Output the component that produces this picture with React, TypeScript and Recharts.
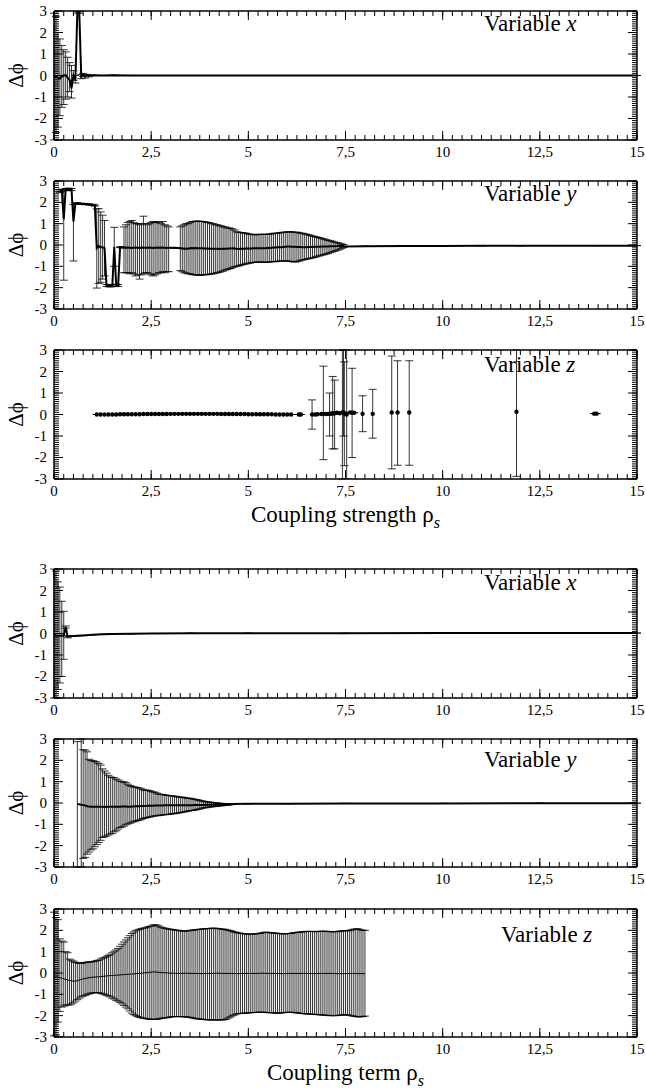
import React from 'react';
import { LineChart, Line, XAxis, YAxis, ErrorBar, Label } from 'recharts';

const FONT = '"Liberation Serif", "Times New Roman", serif';

// ---------- axes ----------
const xMajorTicks = [0, 2.5, 5, 7.5, 10, 12.5, 15];
const xTickLabels = ['0', '2,5', '5', '7,5', '10', '12,5', '15'];
const xMinorTicks = [0, 0.25, 0.5, 0.75, 1, 1.25, 1.5, 1.75, 2, 2.25, 2.5, 2.75, 3, 3.25, 3.5, 3.75, 4, 4.25, 4.5, 4.75, 5, 5.25, 5.5, 5.75, 6, 6.25, 6.5, 6.75, 7, 7.25, 7.5, 7.75, 8, 8.25, 8.5, 8.75, 9, 9.25, 9.5, 9.75, 10, 10.25, 10.5, 10.75, 11, 11.25, 11.5, 11.75, 12, 12.25, 12.5, 12.75, 13, 13.25, 13.5, 13.75, 14, 14.25, 14.5, 14.75, 15];
const yMajorTicks = [-3, -2, -1, 0, 1, 2, 3];
const yMinorTicks = [-3, -2.9, -2.8, -2.7, -2.6, -2.5, -2.4, -2.3, -2.2, -2.1, -2, -1.9, -1.8, -1.7, -1.6, -1.5, -1.4, -1.3, -1.2, -1.1, -1, -0.9, -0.8, -0.7, -0.6, -0.5, -0.4, -0.3, -0.2, -0.1, 0, 0.1, 0.2, 0.3, 0.4, 0.5, 0.6, 0.7, 0.8, 0.9, 1, 1.1, 1.2, 1.3, 1.4, 1.5, 1.6, 1.7, 1.8, 1.9, 2, 2.1, 2.2, 2.3, 2.4, 2.5, 2.6, 2.7, 2.8, 2.9, 3];
const yDomain: [number, number] = [-3, 3];
const xDomain: [number, number] = [0, 15];

// ---------- Panel 1 : coupling strength, variable x ----------
const p1X = [0, 0.05, 0.1, 0.15, 0.2, 0.25, 0.3, 0.35, 0.4, 0.45, 0.5, 0.55, 0.6, 0.65, 0.7, 0.75, 0.8, 0.85, 0.9, 1, 1.25, 1.5, 2, 2.5, 3.5, 5, 7.5, 10, 12.5, 15];
const p1Y = [-0.1, -0.05, -0.1, -0.15, -0.05, 0, 0.02, -0.1, -0.2, -0.6, 0, -0.2, 2.95, 2.95, -0.05, 0.05, -0.05, 0.03, -0.02, 0.01, 0, 0.01, 0, 0, 0, 0, 0, 0, 0, 0];
const p1Hi = [2.9, 2.75, 2.0, 1.7, 1.4, 1.2, 1.1, 0.85, 0.6, 0.47, 0.23, 0.0, 2.98, 2.98, 0.05, 0.1, 0.03, 0.05, 0.02];
const p1Lo = [-3.1, -2.65, -2.4, -1.87, -1.48, -1.35, -1.1, -1.0, -0.75, -1.05, -0.23, -0.35, 2.9, 2.9, -0.15, -0.05, -0.12, 0.0, -0.06];

// ---------- Panel 2 : coupling strength, variable y ----------
const p2XA = [0.15, 0.2, 0.25, 0.3, 0.35, 0.4, 0.45, 0.5, 0.55, 0.6, 0.7, 0.8, 0.9, 1, 1.05];
const p2YA = [2.5, 2.55, 1.2, 2.6, 2.6, 2.62, 2.6, 1.1, 1.95, 1.95, 1.93, 1.92, 1.9, 1.88, 1.85];
const p2HiA = [2.58, 2.62, 2.6, 2.65, 2.66, 2.66, 2.65, 1.9, 1.98, 1.98, 1.96, 1.95, 1.93, 1.91, 1.88];
const p2LoA = [2.45, 2.5, -1.65, 2.55, 2.55, 2.56, 2.55, -0.75, 1.92, 1.92, 1.9, 1.89, 1.87, 1.85, 1.82];

const p2XB = [1.1, 1.15, 1.2, 1.25, 1.3, 1.35, 1.4, 1.45, 1.5, 1.55, 1.6, 1.65, 1.7, 1.75];
const p2YB = [-0.15, -0.05, -0.1, -0.1, -0.15, -1.9, -1.9, -1.92, -1.9, -0.1, -1.88, -1.9, -0.1, -0.12];
const p2HiB = [1.7, 1.7, 1.55, 1.4, 1.15, -1.85, -1.85, -1.87, -1.85, 0.83, -1.84, -1.85, -0.08, -0.1];
const p2LoB = [-2.02, -1.8, -1.75, -1.6, -1.45, -1.95, -1.95, -1.97, -1.95, -1.0, -1.92, -1.95, -0.12, -0.14];

const p2XC = [1.8, 1.85, 1.9, 1.95, 2, 2.05, 2.1, 2.15, 2.2, 2.25, 2.3, 2.35, 2.4, 2.45, 2.5, 2.55, 2.6, 2.65, 2.7, 2.75, 2.8, 2.85, 2.9, 2.95];
const p2YC = [-0.12, -0.13, -0.12, -0.13, -0.14, -0.13, -0.12, -0.13, -0.14, -0.13, -0.12, -0.13, -0.13, -0.12, -0.13, -0.14, -0.13, -0.12, -0.13, -0.13, -0.12, -0.13, -0.14, -0.13];
const p2HiC = [0.85, 0.95, 1.05, 1.1, 1.15, 1.05, 1.0, 1.0, 0.95, 1.0, 1.35, 1.0, 0.95, 1.0, 1.05, 1.1, 1.05, 1.1, 1.05, 1.0, 1.1, 0.95, 0.9, 0.85];
const p2LoC = [-1.3, -1.3, -1.3, -1.35, -1.3, -1.35, -1.45, -1.4, -1.6, -1.4, -1.35, -1.3, -1.3, -1.35, -1.4, -1.45, -1.4, -1.35, -1.3, -1.3, -1.25, -1.3, -1.25, -1.25];

const p2XG = [3, 3.1, 3.2];
const p2YG = [-0.13, -0.13, -0.14];

const p2XD = [3.25, 3.3, 3.35, 3.4, 3.45, 3.5, 3.55, 3.6, 3.65, 3.7, 3.75, 3.8, 3.85, 3.9, 3.95, 4, 4.05, 4.1, 4.15, 4.2, 4.25, 4.3, 4.35, 4.4, 4.45, 4.5, 4.55, 4.6, 4.65, 4.7, 4.75, 4.8, 4.85, 4.9, 4.95, 5, 5.05, 5.1, 5.15, 5.2, 5.25, 5.3, 5.35, 5.4, 5.45, 5.5, 5.55, 5.6, 5.65, 5.7, 5.75, 5.8, 5.85, 5.9, 5.95, 6, 6.05, 6.1, 6.15, 6.2, 6.25, 6.3, 6.35, 6.4, 6.45, 6.5, 6.55, 6.6, 6.65, 6.7, 6.75, 6.8, 6.85, 6.9, 6.95, 7, 7.05, 7.1, 7.15, 7.2, 7.25, 7.3, 7.35, 7.4, 7.45];
const p2YD = [-0.15, -0.16, -0.17, -0.16, -0.17, -0.15, -0.14, -0.15, -0.14, -0.15, -0.15, -0.15, -0.16, -0.16, -0.16, -0.17, -0.17, -0.17, -0.18, -0.18, -0.19, -0.18, -0.18, -0.17, -0.17, -0.16, -0.16, -0.15, -0.16, -0.19, -0.19, -0.18, -0.17, -0.17, -0.16, -0.16,
  -0.16, -0.16, -0.15, -0.15, -0.15, -0.15, -0.15, -0.15, -0.15, -0.14, -0.14, -0.13, -0.12, -0.12, -0.11, -0.11, -0.1, -0.09, -0.08, -0.07, -0.07, -0.08, -0.08, -0.08, -0.09, -0.09, -0.09, -0.1, -0.1, -0.1,
  -0.09, -0.09, -0.09, -0.08, -0.08, -0.08, -0.08, -0.07, -0.07, -0.07, -0.07, -0.06, -0.06, -0.06, -0.06, -0.05, -0.05, -0.05, -0.05];
const p2HiD = [0.85, 0.9, 0.95, 1.0, 1.0, 1.05, 1.1, 1.1, 1.12, 1.12, 1.12, 1.1, 1.1, 1.08, 1.05, 1.05, 1.0, 1.0, 0.95, 0.95, 0.9, 0.9, 0.85, 0.85, 0.8, 0.8, 0.78, 0.75, 0.7, 0.62, 0.6, 0.58, 0.58, 0.56, 0.55, 0.52, 0.5, 0.5, 0.48, 0.48, 0.5, 0.5, 0.5, 0.5, 0.5, 0.5, 0.52, 0.52, 0.55, 0.55, 0.55, 0.58, 0.58, 0.6, 0.6, 0.62, 0.62, 0.62, 0.6, 0.6, 0.6, 0.58, 0.55, 0.55, 0.52, 0.5, 0.48, 0.45, 0.42, 0.4, 0.38, 0.35, 0.33, 0.3, 0.28, 0.25, 0.22, 0.2, 0.18, 0.15, 0.12, 0.1, 0.08, 0.05, 0.02];
const p2LoD = [-1.2, -1.25, -1.3, -1.32, -1.35, -1.35, -1.38, -1.4, -1.4, -1.42, -1.42, -1.4, -1.4, -1.4, -1.38, -1.38, -1.35, -1.35, -1.32, -1.3, -1.28, -1.25, -1.22, -1.18, -1.15, -1.12, -1.1, -1.05, -1.02, -1.0, -0.98, -0.95, -0.92, -0.9, -0.88, -0.85, -0.85, -0.82, -0.82, -0.8, -0.8, -0.8, -0.8, -0.82, -0.82, -0.8, -0.8, -0.78, -0.78, -0.78, -0.76, -0.76, -0.75, -0.75, -0.75, -0.75, -0.76, -0.78, -0.78, -0.8, -0.78, -0.76, -0.72, -0.7, -0.68, -0.66, -0.64, -0.62, -0.6, -0.58, -0.55, -0.52, -0.5, -0.47, -0.45, -0.42, -0.4, -0.36, -0.33, -0.3, -0.27, -0.24, -0.2, -0.16, -0.12];

const p2XT = [7.5, 8, 9, 10, 11, 12, 13, 14, 15];
const p2YT = [-0.07, -0.06, -0.05, -0.05, -0.04, -0.04, -0.03, -0.03, -0.03];

// ---------- Panel 3 : coupling strength, variable z (points) ----------
const p3XA = [1.1, 1.2, 1.3, 1.4, 1.5, 1.6, 1.7, 1.8, 1.9, 2, 2.1, 2.2, 2.3, 2.4, 2.5, 2.6, 2.7, 2.8, 2.9, 3, 3.1, 3.2, 3.3, 3.4, 3.5, 3.6, 3.7, 3.8, 3.9, 4, 4.1, 4.2, 4.3, 4.4, 4.5, 4.6, 4.7, 4.8, 4.9, 5, 5.1, 5.2, 5.3, 5.4, 5.5, 5.6, 5.7, 5.8, 5.9, 6, 6.1];
const p3YA = [0, 0, 0, 0, 0, 0, 0.01, 0.01, 0.01, 0.01, 0.01, 0.01, 0.02, 0.02, 0.02, 0.02, 0.02, 0.02, 0.02, 0.03, 0.03, 0.03, 0.03, 0.03, 0.03, 0.03, 0.03, 0.03, 0.03, 0.03, 0.03, 0.03, 0.02, 0.02, 0.02, 0.02, 0.02, 0.02, 0.02, 0.01, 0.01, 0.01, 0.01, 0.01, 0.01, 0.01, 0, 0, 0, 0, 0];
const p3XB = [6.3, 6.35, 6.64, 6.72, 6.78, 6.88, 6.93, 7.0, 7.05, 7.09, 7.14, 7.17, 7.22, 7.28, 7.35, 7.42, 7.45, 7.47, 7.53, 7.62, 7.67, 7.72, 7.94, 8.2, 8.69, 8.84, 9.14, 11.9, 13.9, 13.96];
const p3YB = [0, 0, 0, 0, 0.01, 0.02, 0.03, 0.02, 0.03, 0.03, 0.05, 0.05, 0.06, 0.08, 0.06, 0.1, 0.1, 0.05, 0, 0.1, 0.08, 0.08, 0.03, 0.03, 0.09, 0.09, 0.09, 0.13, 0.04, 0.04];
const p3HiB = [null, null, 0.68, null, null, null, 2.25, null, null, 1.0, null, 1.77, 1.6, null, null, 3.5, 3.4, 2.45, 3.2, null, 2.15, null, 0.87, 1.17, 2.72, 2.5, 2.5, 3.2, null, null];
const p3LoB = [null, null, -0.68, null, null, null, -2.1, null, null, -1.0, null, -1.6, -1.6, null, null, -3.3, -1.0, -2.38, -2.98, null, -2.0, null, -0.8, -1.1, -2.53, -2.36, -2.36, -2.88, null, null];

// ---------- Panel 4 : coupling term, variable x ----------
const p4X = [0, 0.05, 0.1, 0.15, 0.2, 0.25, 0.3, 0.35, 0.4, 0.5, 0.6, 0.75, 1, 1.25, 1.5, 2, 2.5, 3.5, 5, 7.5, 10, 12.5, 15];
const p4Y = [-0.05, -0.1, -0.1, -0.1, -0.1, -0.1, 0.3, -0.15, -0.14, -0.12, -0.11, -0.09, -0.06, -0.04, -0.02, -0.01, 0, 0.01, 0.01, 0.01, 0.02, 0.02, 0.02];
const p4Hi = [3.3, 2.9, 2.4, 2.16, 1.5, 1.03, 0.35, -0.1];
const p4Lo = [-3.3, -3.0, -2.6, -2.3, -2.0, -1.2, 0.25, -0.2];

// ---------- Panel 5 : coupling term, variable y ----------
const p5XA = [0.6, 0.7];
const p5YA = [-0.05, -0.08];
const p5HiA = [2.88, 3.3];
const p5LoA = [-3.0, -3.3];
const p5XB = [0.75, 0.8, 0.85, 0.9, 0.95, 1, 1.05, 1.1, 1.15, 1.2, 1.25, 1.3, 1.35, 1.4, 1.45, 1.5, 1.55, 1.6, 1.65, 1.7, 1.75, 1.8, 1.85, 1.9, 1.95, 2, 2.05, 2.1, 2.15, 2.2, 2.25, 2.3, 2.35, 2.4, 2.45, 2.5, 2.55, 2.6, 2.65, 2.7, 2.75, 2.8, 2.85, 2.9, 2.95, 3, 3.05, 3.1, 3.15, 3.2, 3.25, 3.3, 3.35, 3.4, 3.45, 3.5, 3.55, 3.6, 3.65, 3.7, 3.75, 3.8, 3.85, 3.9, 3.95, 4, 4.05, 4.1, 4.15, 4.2, 4.25, 4.3, 4.35, 4.4, 4.45, 4.5, 4.55, 4.6];
const p5YB = [-0.1, -0.12, -0.15, -0.17, -0.18, -0.18, -0.18, -0.17, -0.17, -0.18, -0.18, -0.19, -0.18, -0.18, -0.17, -0.17, -0.18, -0.18, -0.17, -0.17, -0.16, -0.16, -0.16, -0.17, -0.17, -0.16,
  -0.16, -0.15, -0.15, -0.15, -0.14, -0.14, -0.14, -0.13, -0.13, -0.13, -0.13, -0.12, -0.12, -0.12, -0.12, -0.12, -0.11, -0.11, -0.11, -0.11,
  -0.11, -0.11, -0.1, -0.1, -0.1, -0.1, -0.1, -0.1, -0.1, -0.1, -0.1, -0.09, -0.09, -0.09, -0.09, -0.09, -0.09, -0.08, -0.08, -0.08,
  -0.08, -0.08, -0.08, -0.07, -0.07, -0.07, -0.07, -0.06, -0.06, -0.06, -0.06, -0.05];
const p5HiB = [2.5, 2.48, 2.4, 2.05, 2.0, 1.98, 1.95, 1.92, 1.85, 1.78, 1.6, 1.5, 1.4, 1.3, 1.22, 1.2, 1.18, 1.12, 1.08, 1.02, 1.0, 0.98, 0.95, 0.88, 0.82, 0.78, 0.76, 0.74, 0.72, 0.7, 0.66, 0.62, 0.6, 0.6, 0.58, 0.55, 0.52, 0.5, 0.46, 0.42, 0.4, 0.4, 0.38, 0.36, 0.35, 0.34, 0.33, 0.32, 0.3, 0.28, 0.28, 0.27, 0.25, 0.24, 0.22, 0.22, 0.2, 0.18, 0.16, 0.15, 0.12, 0.1, 0.08, 0.06, 0.05, 0.04, 0.03, 0.02, 0.01, 0, -0.01, -0.02, -0.02, -0.03, -0.03, -0.03, -0.04, -0.04];
const p5LoB = [-2.6, -2.55, -2.4, -2.3, -2.2, -2.15, -2.05, -1.95, -1.85, -1.75, -1.62, -1.58, -1.55, -1.5, -1.45, -1.42, -1.35, -1.3, -1.22, -1.15, -1.12, -1.08, -1.02, -0.98, -0.95, -0.9, -0.88, -0.85, -0.82, -0.8, -0.76, -0.73, -0.7, -0.68, -0.66, -0.64, -0.62, -0.6, -0.6, -0.58, -0.57, -0.56, -0.55, -0.54, -0.53, -0.52, -0.5, -0.5, -0.48, -0.47, -0.45, -0.43, -0.42, -0.4, -0.38, -0.36, -0.35, -0.34, -0.32, -0.3, -0.28, -0.25, -0.23, -0.22, -0.2, -0.19, -0.18, -0.17, -0.16, -0.15, -0.14, -0.13, -0.12, -0.11, -0.1, -0.09, -0.08, -0.07];
const p5XT = [5, 6, 7.5, 10, 12.5, 15];
const p5YT = [-0.04, -0.03, -0.02, -0.02, -0.01, -0.01];

// ---------- Panel 6 : coupling term, variable z ----------
const p6X = [0, 0.05, 0.1, 0.15, 0.2, 0.25, 0.3, 0.35, 0.4, 0.45, 0.5, 0.55, 0.6, 0.65, 0.7, 0.75, 0.8, 0.85, 0.9, 0.95,
  1, 1.05, 1.1, 1.15, 1.2, 1.25, 1.3, 1.35, 1.4, 1.45, 1.5, 1.55, 1.6, 1.65, 1.7, 1.75, 1.8, 1.85, 1.9, 1.95,
  2, 2.05, 2.1, 2.15, 2.2, 2.25, 2.3, 2.35, 2.4, 2.45, 2.5, 2.55, 2.6, 2.65, 2.7, 2.75, 2.8, 2.85, 2.9, 2.95,
  3, 3.05, 3.1, 3.15, 3.2, 3.25, 3.3, 3.35, 3.4, 3.45, 3.5, 3.55, 3.6, 3.65, 3.7, 3.75, 3.8, 3.85, 3.9, 3.95,
  4, 4.05, 4.1, 4.15, 4.2, 4.25, 4.3, 4.35, 4.4, 4.45, 4.5, 4.55, 4.6, 4.65, 4.7, 4.75, 4.8, 4.85, 4.9, 4.95,
  5, 5.05, 5.1, 5.15, 5.2, 5.25, 5.3, 5.35, 5.4, 5.45, 5.5, 5.55, 5.6, 5.65, 5.7, 5.75, 5.8, 5.85, 5.9, 5.95,
  6, 6.05, 6.1, 6.15, 6.2, 6.25, 6.3, 6.35, 6.4, 6.45, 6.5, 6.55, 6.6, 6.65, 6.7, 6.75, 6.8, 6.85, 6.9, 6.95,
  7, 7.05, 7.1, 7.15, 7.2, 7.25, 7.3, 7.35, 7.4, 7.45, 7.5, 7.55, 7.6, 7.65, 7.7, 7.75, 7.8, 7.85, 7.9, 7.95, 8];
const p6Y = [-0.2, -0.18, -0.2, -0.22, -0.25, -0.27, -0.3, -0.32, -0.35, -0.37, -0.38, -0.38, -0.36, -0.33, -0.3, -0.28, -0.26, -0.24, -0.22, -0.21,
  -0.2, -0.19, -0.18, -0.18, -0.17, -0.16, -0.15, -0.14, -0.13, -0.12, -0.12, -0.11, -0.1, -0.1, -0.09, -0.08, -0.08, -0.07, -0.06, -0.05,
  -0.05, -0.04, -0.03, -0.02, -0.02, -0.01, 0, 0.01, 0.02, 0.03, 0.04, 0.05, 0.05, 0.04, 0.03, 0.02, 0.02, 0.01, 0.01, 0,
  -0.01, -0.01, -0.01, -0.02, -0.02, -0.02, -0.02, -0.01, -0.01, -0.01, -0.02, -0.02, -0.02, -0.02, -0.02, -0.03, -0.03, -0.02, -0.02, -0.02,
  -0.02, -0.02, -0.02, -0.01, -0.01, -0.01, -0.02, -0.02, -0.02, -0.02, -0.02, -0.02, -0.02, -0.02, -0.03, -0.03, -0.03, -0.02, -0.02, -0.02,
  -0.02, -0.02, -0.02, -0.02, -0.02, -0.02, -0.01, -0.01, -0.01, -0.02, -0.02, -0.02, -0.02, -0.02, -0.02, -0.02, -0.02, -0.03, -0.03, -0.03,
  -0.02, -0.02, -0.02, -0.02, -0.02, -0.02, -0.02, -0.02, -0.02, -0.02, -0.02, -0.02, -0.03, -0.03, -0.03, -0.03, -0.02, -0.02, -0.02, -0.02,
  -0.02, -0.02, -0.02, -0.02, -0.02, -0.03, -0.03, -0.03, -0.03, -0.03, -0.03, -0.03, -0.02, -0.02, -0.02, -0.02, -0.03, -0.03, -0.03, -0.03, -0.03];
const p6Hi = [2.85, 2.6, 2.5, 1.6, 1.5, 1.45, 1.0, 0.95, 0.65, 0.6, 0.55, 0.5, 0.48, 0.45, 0.45, 0.48, 0.5, 0.5, 0.52, 0.52,
  0.53, 0.55, 0.58, 0.6, 0.65, 0.7, 0.72, 0.78, 0.82, 0.88, 0.95, 1.02, 1.08, 1.15, 1.25, 1.35, 1.45, 1.55, 1.65, 1.75,
  1.85, 1.92, 1.98, 2.02, 2.05, 2.08, 2.1, 2.12, 2.15, 2.18, 2.2, 2.25, 2.26, 2.24, 2.2, 2.15, 2.12, 2.1, 2.08, 2.06,
  2.05, 2.04, 2.02, 2.0, 2.0, 1.98, 1.97, 1.96, 1.97, 1.98, 2.0, 2.0, 2.02, 2.03, 2.04, 2.05, 2.06, 2.07, 2.08, 2.08,
  2.08, 2.1, 2.1, 2.1, 2.08, 2.08, 2.06, 2.05, 2.05, 2.02, 2.0, 1.98, 1.95, 1.92, 1.9, 1.88, 1.86, 1.85, 1.84, 1.83,
  1.82, 1.82, 1.82, 1.83, 1.84, 1.85, 1.86, 1.88, 1.9, 1.92, 1.9, 1.9, 1.88, 1.88, 1.87, 1.86, 1.85, 1.84, 1.83, 1.84,
  1.85, 1.85, 1.86, 1.88, 1.9, 1.9, 1.92, 1.92, 1.93, 1.94, 1.95, 1.95, 1.95, 1.95, 1.94, 1.94, 1.95, 1.95, 1.96, 1.96,
  1.95, 1.95, 1.94, 1.94, 1.93, 1.94, 1.95, 1.96, 1.97, 1.98, 1.98, 1.98, 2.0, 2.02, 2.05, 2.05, 2.08, 2.05, 2.02, 2.0, 2.0];
const p6Lo = [-2.95, -2.9, -2.3, -1.8, -1.6, -1.55, -1.5, -1.5, -1.5, -1.45, -1.4, -1.32, -1.25, -1.18, -1.12, -1.08, -1.05, -1.0, -0.98, -0.95,
  -0.93, -0.92, -0.92, -0.93, -0.95, -0.98, -1.0, -1.05, -1.08, -1.12, -1.18, -1.22, -1.28, -1.32, -1.38, -1.45, -1.52, -1.6, -1.68, -1.78,
  -1.88, -1.95, -2.0, -2.04, -2.08, -2.1, -2.12, -2.14, -2.15, -2.16, -2.17, -2.18, -2.18, -2.17, -2.15, -2.13, -2.12, -2.1, -2.1, -2.08,
  -2.06, -2.05, -2.05, -2.04, -2.04, -2.05, -2.05, -2.05, -2.06, -2.07, -2.08, -2.1, -2.12, -2.14, -2.15, -2.16, -2.17, -2.18, -2.18, -2.2,
  -2.2, -2.2, -2.2, -2.2, -2.2, -2.2, -2.2, -2.2, -2.18, -2.15, -2.1, -2.05, -2.0, -1.96, -1.92, -1.9, -1.9, -1.89, -1.88, -1.88,
  -1.87, -1.86, -1.86, -1.85, -1.85, -1.84, -1.84, -1.84, -1.84, -1.85, -1.86, -1.86, -1.86, -1.87, -1.88, -1.88, -1.88, -1.87, -1.86, -1.85,
  -1.85, -1.84, -1.84, -1.85, -1.86, -1.87, -1.88, -1.9, -1.9, -1.91, -1.92, -1.92, -1.93, -1.94, -1.94, -1.95, -1.95, -1.96, -1.97, -1.98,
  -1.98, -1.99, -2.0, -2.0, -2.0, -2.0, -1.99, -1.98, -1.97, -1.96, -1.96, -1.97, -1.98, -2.0, -2.02, -2.04, -2.05, -2.06, -2.05, -2.04, -2.02];

// ---------- table building ----------
type Row = { x: number; y: number; e: [number, number] };
// error bar ends are limited to the visible y window (the plot frame clips them)
function rowsOf(xs: number[], ys: number[], lo: (number | null)[] = [], hi: (number | null)[] = []): Row[] {
  return xs.map((x, i) => {
    const y = ys[i];
    const l = lo[i];
    const h = hi[i];
    const lc = l == null ? y : Math.max(l, yDomain[0]);
    const hc = h == null ? y : Math.min(h, yDomain[1]);
    return { x, y, e: [y - lc, hc - y] as [number, number] };
  });
}

const rows1 = rowsOf(p1X, p1Y, p1Lo, p1Hi);
const rows2 = [
  ...rowsOf(p2XA, p2YA, p2LoA, p2HiA),
  ...rowsOf(p2XB, p2YB, p2LoB, p2HiB),
  ...rowsOf(p2XC, p2YC, p2LoC, p2HiC),
  ...rowsOf(p2XG, p2YG),
  ...rowsOf(p2XD, p2YD, p2LoD, p2HiD),
  ...rowsOf(p2XT, p2YT),
];
const rows3 = [...rowsOf(p3XA, p3YA), ...rowsOf(p3XB, p3YB, p3LoB, p3HiB)];
const rows4 = rowsOf(p4X, p4Y, p4Lo, p4Hi);
const rows5 = [...rowsOf(p5XA, p5YA, p5LoA, p5HiA), ...rowsOf(p5XB, p5YB, p5LoB, p5HiB), ...rowsOf(p5XT, p5YT)];
const rows6 = rowsOf(p6X, p6Y, p6Lo, p6Hi);

const fmtX = (v: number) => {
  const i = xMajorTicks.indexOf(v);
  return i >= 0 ? xTickLabels[i] : String(v);
};

const frameLine = { stroke: '#000', strokeWidth: 1.5 };
const THIN = 0.01;
const MAJOR = 9;
const MINOR = 5;

// Tick renderers: the axis hands over the tick position (tickSize = tickMargin = 0, so
// the point lies on the axis line); an inward tick mark is drawn from there.
type Side = 'bottom' | 'top' | 'left' | 'right';
const makeTick = (side: Side, len: number, withLabel: boolean) => (props: any) => {
  const { x, y, payload } = props;
  let x2 = x;
  let y2 = y;
  if (side === 'bottom') y2 = y - len;
  if (side === 'top') y2 = y + len;
  if (side === 'left') x2 = x + len;
  if (side === 'right') x2 = x - len;
  let label: React.ReactNode = null;
  if (withLabel && side === 'bottom') {
    label = (
      <text x={x} y={y + 17} textAnchor="middle" fontFamily={FONT} fontSize={15} fill="#000">
        {fmtX(payload.value)}
      </text>
    );
  }
  if (withLabel && side === 'left') {
    label = (
      <text x={x - 7} y={y + 5} textAnchor="end" fontFamily={FONT} fontSize={15} fill="#000">
        {String(payload.value)}
      </text>
    );
  }
  return (
    <g>
      <line x1={x} y1={y} x2={x2} y2={y2} stroke="#000" strokeWidth={1} />
      {label}
    </g>
  );
};

const yTitle = (p: any) => {
  const vb = p.viewBox || {};
  const cx = 16;
  const cy = vb.y + vb.height / 2;
  return (
    <text x={cx} y={cy} transform={`rotate(-90 ${cx} ${cy})`} textAnchor="middle" dominantBaseline="central" fontFamily={FONT} fontSize={21} fill="#000">
      Δϕ
    </text>
  );
};

const varTitle = (name: string, dx: number, dy: number) => (p: any) => {
  const vb = p.viewBox || {};
  return (
    <text x={vb.x - dx} y={vb.y + dy} fontFamily={FONT} fontSize={23} fill="#000">
      Variable <tspan fontStyle="italic">{name}</tspan>
    </text>
  );
};

const xTitle = (title: string) => (p: any) => {
  const vb = p.viewBox || {};
  const cx = vb.x + vb.width / 2;
  return (
    <text x={cx} y={vb.y + 43} textAnchor="middle" fontFamily={FONT} fontSize={23} fill="#000">
      {title} ρ<tspan fontSize={16} fontStyle="italic" dy={6}>s</tspan>
    </text>
  );
};

type PanelProps = {
  plotTop: number;
  plotH: number;
  bottom: number;
  rows: Row[];
  varName: string;
  varDx: number;
  varDy: number;
  title?: string;
  dots?: boolean;
  lineWidth: number;
};

function Panel({ plotTop, plotH, bottom, rows, varName, varDx, varDy, title, dots, lineWidth }: PanelProps) {
  const top = 10;
  const num = { type: 'number' as const, allowDataOverflow: true, interval: 0 as const, stroke: '#000', tickSize: 0, tickMargin: 0, tickLine: false };
  const xa = { ...num, dataKey: 'x', domain: xDomain, height: THIN };
  const ya = { ...num, domain: yDomain, width: THIN };
  return (
    <div style={{ position: 'absolute', left: 0, top: plotTop - top }}>
      <LineChart width={646} height={top + plotH + bottom} data={rows} margin={{ top, right: 9, bottom, left: 54 }}>
        <XAxis xAxisId="b" {...xa} ticks={xMajorTicks} axisLine={frameLine} tick={makeTick('bottom', MAJOR, true)}>
          {title ? <Label content={xTitle(title)} /> : null}
        </XAxis>
        <XAxis xAxisId="bm" {...xa} ticks={xMinorTicks} axisLine={false} tick={makeTick('bottom', MINOR, false)} />
        <XAxis xAxisId="t" {...xa} orientation="top" ticks={xMajorTicks} axisLine={frameLine} tick={makeTick('top', MAJOR, false)} />
        <XAxis xAxisId="tm" {...xa} orientation="top" ticks={xMinorTicks} axisLine={false} tick={makeTick('top', MINOR, false)} />
        <YAxis yAxisId="l" {...ya} ticks={yMajorTicks} axisLine={frameLine} tick={makeTick('left', MAJOR, true)}>
          <Label content={yTitle} />
        </YAxis>
        <YAxis yAxisId="lm" {...ya} ticks={yMinorTicks} axisLine={false} tick={makeTick('left', MINOR, false)} />
        <YAxis yAxisId="r" {...ya} orientation="right" ticks={yMajorTicks} axisLine={frameLine} tick={makeTick('right', MAJOR, false)}>
          <Label content={varTitle(varName, varDx, varDy)} />
        </YAxis>
        <YAxis yAxisId="rm" {...ya} orientation="right" ticks={yMinorTicks} axisLine={false} tick={makeTick('right', MINOR, false)} />
        <Line
          xAxisId="b"
          yAxisId="l"
          type="linear"
          dataKey="y"
          stroke={dots ? 'none' : '#000'}
          strokeWidth={lineWidth}
          dot={dots ? { r: 2.2, fill: '#000', stroke: '#000', strokeWidth: 0 } : false}
          activeDot={false}
          isAnimationActive={false}
        >
          <ErrorBar dataKey="e" direction="y" width={4} stroke="#000" strokeWidth={0.8} isAnimationActive={false} />
        </Line>
      </LineChart>
    </div>
  );
}

export default function App() {
  return (
    <div style={{ position: 'absolute', left: 0, top: 0, width: 646, height: 1092, background: '#fff', overflow: 'hidden' }}>
      <Panel plotTop={11} plotH={129} bottom={28} rows={rows1} varName="x" varDx={153} varDy={20} lineWidth={2} />
      <Panel plotTop={181} plotH={128} bottom={28} rows={rows2} varName="y" varDx={153} varDy={20} lineWidth={2} />
      <Panel plotTop={350} plotH={129} bottom={55} rows={rows3} varName="z" varDx={153} varDy={22} dots lineWidth={1} title="Coupling strength" />
      <Panel plotTop={569} plotH={129} bottom={28} rows={rows4} varName="x" varDx={153} varDy={21} lineWidth={2} />
      <Panel plotTop={739} plotH={128} bottom={28} rows={rows5} varName="y" varDx={153} varDy={28} lineWidth={2} />
      <Panel plotTop={909} plotH={128} bottom={55} rows={rows6} varName="z" varDx={136} varDy={33} lineWidth={1} title="Coupling term" />
    </div>
  );
}
